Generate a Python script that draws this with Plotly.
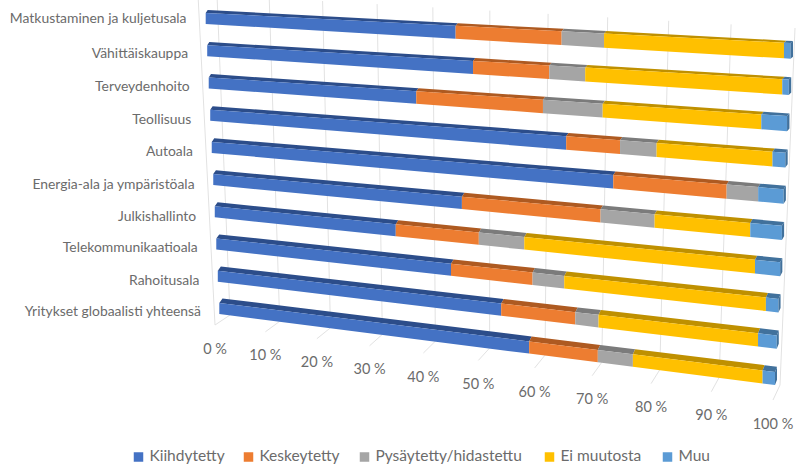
import plotly.graph_objects as go

# Share of respondents per industry, in percent
categories = [
    "Matkustaminen ja kuljetusala", "Vähittäiskauppa", "Terveydenhoito", "Teollisuus",
    "Autoala", "Energia-ala ja ympäristöala", "Julkishallinto", "Telekommunikaatioala",
    "Rahoitusala", "Yritykset globaalisti yhteensä",
]
kiihdytetty = [45.5, 48.5, 38.5, 64.5, 72.5, 46.5, 34.5, 44.5, 53.5, 58.5]
keskeytetty = [18.0, 13.0, 22.0, 9.0, 18.5, 24.0, 15.0, 14.5, 13.0, 12.0]
pysaytetty = [7.0, 6.0, 10.0, 6.0, 5.0, 9.0, 8.0, 5.5, 4.0, 6.0]
ei_muutosta = [28.5, 31.5, 25.5, 18.5, 0.0, 15.5, 38.5, 33.5, 26.5, 21.5]
muu = [1.0, 1.0, 4.0, 2.0, 4.0, 5.0, 4.0, 2.0, 3.0, 2.0]
tick_labels = ["0 %", "10 %", "20 %", "30 %", "40 %", "50 %", "60 %", "70 %", "80 %", "90 %", "100 %"]

series = [
    ("Kiihdytetty", kiihdytetty, "#4472c4", "#2c4d8a", 134),
    ("Keskeytetty", keskeytetty, "#ed7d31", "#ae5a21", 244),
    ("Pysäytetty/hidastettu", pysaytetty, "#a5a5a5", "#7b7b7b", 360),
    ("Ei muutosta", ei_muutosta, "#ffc000", "#bf9000", 545),
    ("Muu", muu, "#5b9bd5", "#41719c", 663),
]

FONT = "Lato, 'Open Sans', sans-serif"
TEXT_COLOR = "#6b6b6b"
GRID_COLOR = "#e2e2e2"
LAST_ROW = len(categories) - 1

# Oblique view of the bar block: screen position of each bar edge at the
# (first row 0 %, first row 100 %, last row 0 %, last row 100 %) corners.
EDGES = {
    "back_top": ((207.7, 10.0), (793.0, 41.0), (222.5, 298.5), (777.0, 366.7)),
    "front_top": ((205.7, 13.0), (790.5, 43.0), (219.3, 303.0), (775.0, 372.0)),
    "front_bottom": ((205.7, 24.0), (790.5, 58.7), (219.3, 314.0), (775.0, 385.0)),
    "back_bottom": ((207.7, 21.0), (793.0, 56.7), (222.5, 309.5), (777.0, 379.7)),
}
# Back wall and floor of the chart box, same corner order.
WALL = ((217.0, -5.0), (795.0, 28.0), (230.0, 315.0), (780.0, 385.0))
FLOOR_FRONT = ((215.0, 325.0), (773.0, 400.0))
SIDE_WALL = ((198.0, -5.0), (215.0, 325.0))
# Foreshortening along the value axis
FORESHORTEN = 0.106
# Baselines of the category labels
LABEL_Y = [20, 55, 88, 121, 153, 186, 218, 249, 282, 312.5]


def lerp(a, b, k):
    return (a[0] + (b[0] - a[0]) * k, a[1] + (b[1] - a[1]) * k)


def along(share):
    return (1 - FORESHORTEN) * share / (1 - FORESHORTEN * share)


def project(corners, row_share, share):
    left = lerp(corners[0], corners[2], row_share)
    right = lerp(corners[1], corners[3], row_share)
    return lerp(left, right, along(share))


def bar_point(edge, row, value):
    return project(EDGES[edge], row / LAST_ROW, value / 100)


def polygon_trace(polygons, color, name):
    xs, ys = [], []
    for poly in polygons:
        xs += [p[0] for p in poly] + [poly[0][0], None]
        ys += [p[1] for p in poly] + [poly[0][1], None]
    return go.Scatter(x=xs, y=ys, mode="lines", fill="toself", fillcolor=color,
                      line=dict(width=0), hoverinfo="skip", showlegend=False, name=name)


fig = go.Figure()

# Gridlines on the wall and the floor
grid_x, grid_y = [], []
for i in range(len(tick_labels)):
    share = i / (len(tick_labels) - 1)
    top = project(WALL, 0, share)
    base = project(WALL, 1, share)
    front = lerp(FLOOR_FRONT[0], FLOOR_FRONT[1], along(share))
    grid_x += [top[0], base[0], front[0], None]
    grid_y += [top[1], base[1], front[1], None]
grid_x += [SIDE_WALL[0][0], SIDE_WALL[1][0], None]
grid_y += [SIDE_WALL[0][1], SIDE_WALL[1][1], None]
fig.add_trace(go.Scatter(x=grid_x, y=grid_y, mode="lines", hoverinfo="skip", showlegend=False,
                         line=dict(color=GRID_COLOR, width=1)))

# Stacked bars: front face and darker top face of every segment
starts = [0.0] * len(categories)
for name, values, color, dark, _ in series:
    fronts, tops = [], []
    for row, value in enumerate(values):
        a, b = starts[row], starts[row] + value
        starts[row] = b
        if value <= 0:
            continue
        fronts.append([bar_point("front_top", row, a), bar_point("front_top", row, b),
                       bar_point("front_bottom", row, b), bar_point("front_bottom", row, a)])
        tops.append([bar_point("back_top", row, a), bar_point("back_top", row, b),
                     bar_point("front_top", row, b), bar_point("front_top", row, a)])
    fig.add_trace(polygon_trace(tops, dark, name + " top"))
    fig.add_trace(polygon_trace(fronts, color, name))

# End caps of the full stacks
caps = [[bar_point("front_top", r, 100), bar_point("back_top", r, 100),
         bar_point("back_bottom", r, 100), bar_point("front_bottom", r, 100)]
        for r in range(len(categories))]
fig.add_trace(polygon_trace(caps, series[-1][3], "Muu side"))

# Category labels
label_x = [186.5 + 14.5 * r / LAST_ROW for r in range(len(categories))]
fig.add_trace(go.Scatter(x=label_x, y=LABEL_Y, text=categories, mode="text",
                         textposition="middle left", hoverinfo="skip", showlegend=False,
                         textfont=dict(family=FONT, size=13.9, color=TEXT_COLOR)))

# Value axis labels
tick_pos = [lerp(FLOOR_FRONT[0], FLOOR_FRONT[1], along(i / (len(tick_labels) - 1)))
            for i in range(len(tick_labels))]
fig.add_trace(go.Scatter(x=[p[0] for p in tick_pos], y=[p[1] + 25 for p in tick_pos],
                         text=tick_labels, mode="text", textposition="middle center",
                         hoverinfo="skip", showlegend=False,
                         textfont=dict(family=FONT, size=14.5, color=TEXT_COLOR)))

# Legend row
for name, _, color, _, key_x in series:
    fig.add_trace(go.Scatter(x=[key_x + 4.5], y=[457], text=[" " + name], mode="markers+text",
                             textposition="middle right", hoverinfo="skip", showlegend=False,
                             marker=dict(symbol="square", size=9.5, color=color),
                             textfont=dict(family=FONT, size=15.5, color=TEXT_COLOR)))

fig.update_layout(
    width=797, height=466, autosize=False, margin=dict(l=0, r=0, t=0, b=0),
    paper_bgcolor="white", plot_bgcolor="white", showlegend=False,
    xaxis=dict(range=[0, 797], visible=False, fixedrange=True),
    yaxis=dict(range=[466, 0], visible=False, fixedrange=True),
)
fig.write_html("out.html", config=dict(displayModeBar=False))
